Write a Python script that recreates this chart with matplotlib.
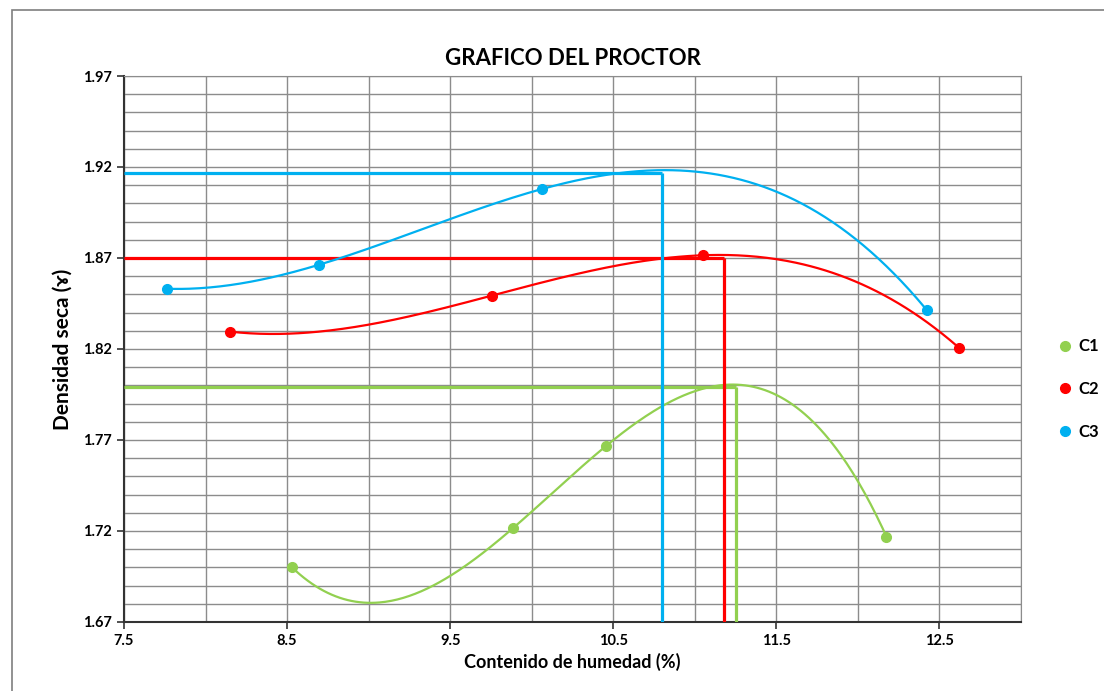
#!/usr/bin/env python3
"""Proctor compaction chart (dry density vs moisture content) for three samples."""

import numpy as np
import matplotlib
matplotlib.use('Agg')
import matplotlib.pyplot as plt
from matplotlib.lines import Line2D
from matplotlib.patches import Rectangle
from matplotlib.ticker import MultipleLocator

# Measured points (moisture %, dry density)
c1_humedad = [8.53, 9.885, 10.456, 12.175]
c1_densidad = [1.700, 1.7215, 1.7667, 1.7169]
c2_humedad = [8.153, 9.755, 11.053, 12.623]
c2_densidad = [1.8295, 1.8493, 1.8715, 1.8204]
c3_humedad = [7.761, 8.693, 10.063, 12.423]
c3_densidad = [1.8531, 1.8662, 1.9079, 1.8413]

# Maximum dry density and optimum moisture
series_names = ['C1', 'C2', 'C3']
densidad_max = [1.7993, 1.8698, 1.9169]
humedad_opt = [11.253, 11.180, 10.799]

# Axis ticks
x_ticks = [7.5, 8.5, 9.5, 10.5, 11.5, 12.5]
y_ticks = [1.67, 1.72, 1.77, 1.82, 1.87, 1.92, 1.97]

colors = ['#92D050', '#FF0000', '#00B0F0']

plt.rcParams['font.family'] = ['Lato', 'DejaVu Sans']

fig = plt.figure(figsize=(11.04, 6.91), dpi=100, facecolor='white')
ax = fig.add_axes([0.1123, 0.100, 0.8125, 0.790])

xmin, xmax = 7.5, 13.0
ymin, ymax = 1.67, 1.97

all_x = [c1_humedad, c2_humedad, c3_humedad]
all_y = [c1_densidad, c2_densidad, c3_densidad]

for xs, ys, col, dmax, wopt in zip(all_x, all_y, colors, densidad_max, humedad_opt):
    # 3rd order polynomial trendline, as in the spreadsheet
    coef = np.polyfit(xs, ys, 3)
    xx = np.linspace(min(xs), max(xs), 300)
    ax.plot(xx, np.polyval(coef, xx), color=col, lw=1.6, zorder=3)
    ax.plot(xs, ys, 'o', color=col, markersize=7, zorder=4)
    # max density / optimum moisture guide lines
    ax.plot([xmin, wopt], [dmax, dmax], color=col, lw=2.3, zorder=3,
            solid_capstyle='butt')
    ax.plot([wopt, wopt], [ymin, dmax], color=col, lw=2.3, zorder=3,
            solid_capstyle='butt')

ax.set_xlim(xmin, xmax)
ax.set_ylim(ymin, ymax)

ax.set_xticks(x_ticks)
ax.set_yticks(y_ticks)
ax.xaxis.set_minor_locator(MultipleLocator(0.5))
ax.yaxis.set_minor_locator(MultipleLocator(0.01))
ax.xaxis.set_major_formatter(plt.FuncFormatter(lambda v, p: f'{v:.1f}'))
ax.yaxis.set_major_formatter(plt.FuncFormatter(lambda v, p: f'{v:.2f}'))

ax.grid(which='both', color='#8c8c8c', lw=1.0)
ax.set_axisbelow(True)
ax.tick_params(which='minor', length=0)
ax.tick_params(which='major', direction='out', length=5, width=1.2,
               labelsize=10.5, color='#333333')
for lab in ax.get_xticklabels() + ax.get_yticklabels():
    lab.set_fontweight('bold')

for side in ['top', 'right']:
    ax.spines[side].set_color('#8c8c8c')
for side in ['left', 'bottom']:
    ax.spines[side].set_color('#333333')
    ax.spines[side].set_linewidth(1.5)

ax.set_title('GRAFICO DEL PROCTOR', fontsize=16, fontweight='bold', pad=8)
ax.set_xlabel('Contenido de humedad (%)', fontsize=13, fontweight='bold', labelpad=4)
ax.set_ylabel('Densidad seca (ɤ)', fontsize=15, fontweight='bold', labelpad=8)

handles = [Line2D([], [], marker='o', ls='none', color=c, markersize=7) for c in colors]
fig.legend(handles, series_names, loc='center left',
           bbox_to_anchor=(1040 / 1104, 0.437), frameon=False,
           prop={'size': 12, 'weight': 'bold'}, labelspacing=1.6,
           handletextpad=0.2, handlelength=1.2)

# outer chart frame
fig.patches.append(Rectangle((12 / 1104, -0.01), 1.0, 1 - 10 / 691 + 0.01,
                             transform=fig.transFigure, fill=False,
                             edgecolor='#7f7f7f', lw=1.2))

fig.savefig('out.png', dpi=100, facecolor='white')
plt.close(fig)
